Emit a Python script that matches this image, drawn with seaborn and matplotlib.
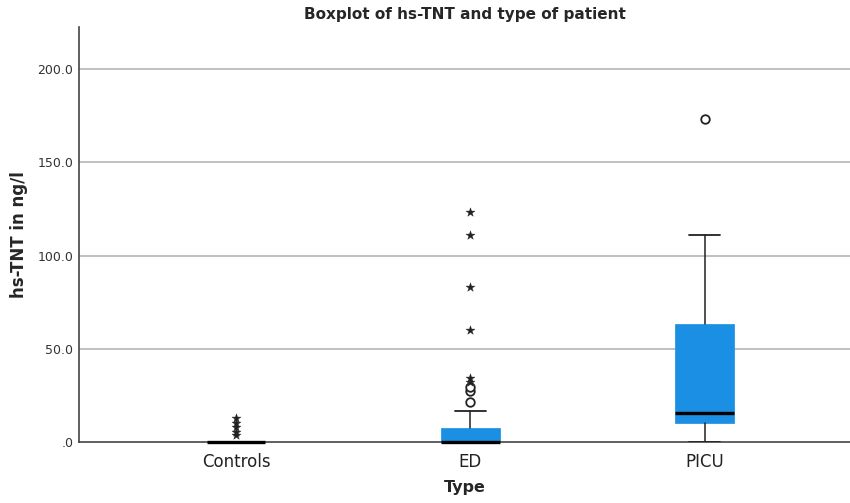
import matplotlib
matplotlib.use('Agg')
import matplotlib.pyplot as plt
import seaborn as sns
import pandas as pd

# box summaries (ng/l)
groups = ['Controls', 'ED', 'PICU']
q1 = [0.0, 0.0, 10.4]
median = [0.0, 0.0, 15.4]
q3 = [0.3, 7.5, 63.6]
whisker_low = [0.0, 0.0, 0.2]
whisker_high = [0.3, 16.8, 111.0]

# outliers: circles (mild) and stars (extreme)
mild_group = ['ED', 'ED', 'ED', 'PICU']
mild_value = [21.6, 27.3, 29.6, 173.0]
extreme_group = ['Controls', 'Controls', 'Controls', 'Controls', 'Controls',
                 'ED', 'ED', 'ED', 'ED', 'ED', 'ED']
extreme_value = [3.8, 5.4, 8.0, 10.2, 12.9,
                 32.0, 34.2, 60.0, 83.0, 111.0, 123.5]

y_ticks = [0, 50, 100, 150, 200]
y_tick_labels = ['.0', '50.0', '100.0', '150.0', '200.0']

sns.set_style('white')
plt.rcParams['font.family'] = ['DejaVu Sans']

fig = plt.figure(figsize=(8.5, 5.03), dpi=100)
ax = fig.add_axes([0.093, 0.121, 0.907, 0.825])

stats = []
for i, g in enumerate(groups):
    stats.append({'label': g, 'q1': q1[i], 'med': median[i], 'q3': q3[i],
                  'whislo': whisker_low[i], 'whishi': whisker_high[i],
                  'fliers': []})

ax.bxp(stats, positions=range(len(groups)), widths=0.25, patch_artist=True,
       showfliers=False,
       boxprops=dict(facecolor='#1a8fe3', edgecolor='#1a8fe3', linewidth=0.5),
       medianprops=dict(color='black', linewidth=2.4, clip_on=False),
       whiskerprops=dict(color='#222222', linewidth=1.1),
       capprops=dict(color='#222222', linewidth=1.3), capwidths=0.13,
       zorder=3)

pos = {g: i for i, g in enumerate(groups)}
mild = pd.DataFrame({'x': [pos[g] for g in mild_group], 'y': mild_value})
extreme = pd.DataFrame({'x': [pos[g] for g in extreme_group], 'y': extreme_value})
sns.scatterplot(data=mild, x='x', y='y', ax=ax, marker='o', s=38,
                facecolor='white', edgecolor='#222222', linewidth=1.3, zorder=4)
sns.scatterplot(data=extreme, x='x', y='y', ax=ax, marker='*', s=45,
                color='#222222', edgecolor='#222222', linewidth=0.3, zorder=4)

ax.set_xlim(-0.67, 2.62)
ax.set_ylim(0, 222.5)
ax.set_xticks(range(len(groups)))
ax.set_xticklabels(groups, fontsize=12, color='#222222')
ax.set_yticks(y_ticks)
ax.set_yticklabels(y_tick_labels, fontsize=9, color='#333333')
ax.tick_params(axis='x', length=0, pad=8)
ax.tick_params(axis='y', length=0, pad=4)

for y in y_ticks[1:]:
    ax.axhline(y, color='#b5b5b5', linewidth=1.2, zorder=1)

for side in ['top', 'right']:
    ax.spines[side].set_visible(False)
for side in ['left', 'bottom']:
    ax.spines[side].set_color('#444444')
    ax.spines[side].set_linewidth(1.2)

ax.set_title('Boxplot of hs-TNT and type of patient', fontsize=11,
             fontweight='bold', pad=6)
ax.set_xlabel('Type', fontsize=11.5, fontweight='bold', labelpad=6)
ax.set_ylabel('hs-TNT in ng/l', fontsize=12, fontweight='bold')
ax.yaxis.set_label_coords(-0.066, 0.5)

fig.savefig('out.png', dpi=100)
